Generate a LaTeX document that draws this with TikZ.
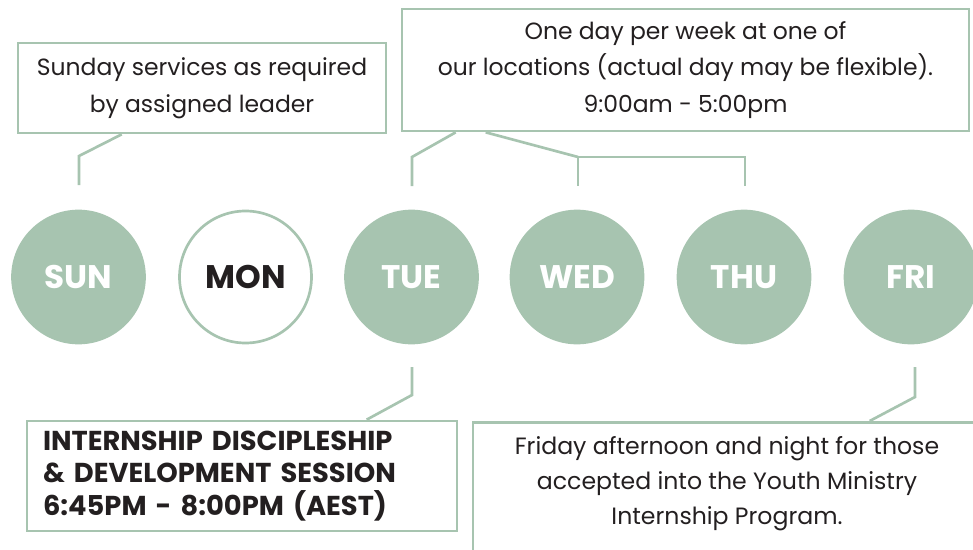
\documentclass[tikz,border=0pt]{standalone}
\usepackage{fontspec}
\setmainfont{Poppins}
\definecolor{sage}{RGB}{167,196,176}
\definecolor{ink}{RGB}{35,31,32}
\tikzset{every picture/.style={line width=2pt}}

\begin{document}
\begin{tikzpicture}[x=0.75pt,y=0.75pt,yscale=-1,xscale=1,
	day/.style={circle,minimum size=101pt,inner sep=0pt,fill=sage,text=white,font=\fontsize{24.5}{24.5}\selectfont\bfseries},
	infobox/.style={draw=sage,rectangle,inner sep=0pt,text=ink,align=center,font=\fontsize{17.6}{27.5}\selectfont},
	link/.style={draw=sage,line width=2pt}]
	\clip (0,0) rectangle (973,549); %picture is 973 wide, 549 high

	% Day circles
	\node[day] (sun) at (78.5,277) {SUN};
	\node[day,fill=white,draw=sage,text=ink,minimum size=99pt] (mon) at (245.5,277) {MON};
	\node[day] (tue) at (411.5,277) {TUE};
	\node[day] (wed) at (577,277) {WED};
	\node[day] (thu) at (744,277) {THU};
	\node[day] (fri) at (911,277) {FRI};

	% Text Node
	\node[infobox,minimum width=276pt,minimum height=67.5pt] (sunbox) at (202,88) {Sunday services as required\\by assigned leader};
	% Text Node
	\node[infobox,minimum width=425.25pt,minimum height=91.5pt] (weekbox) at (685.5,70) {One day per week at one of\\our locations (actual day may be flexible).\\9:00am - 5:00pm};
	% Text Node
	\node[infobox,minimum width=322.5pt,minimum height=82.5pt,inner xsep=12pt,text width=298.5pt,align=left,font=\fontsize{20.5}{24.5}\selectfont\bfseries] (tuebox) at (242,476) {INTERNSHIP DISCIPLESHIP\\\& DEVELOPMENT SESSION\\6:45PM - 8:00PM (AEST)};
	% Box running off the page
	\node[infobox,anchor=north,minimum width=381pt,minimum height=120pt] (fribox) at (727,421) {};
	% Text Node
	\node[text=ink,align=center,font=\fontsize{17.7}{26.25}\selectfont] (fritext) at (727,484) {Friday afternoon and night for those\\accepted into the Youth Ministry\\Internship Program.};

	% Connector ends
	\coordinate (sunend) at (79,185);
	\coordinate (tueend) at (412,186);
	\coordinate (wedend) at (578,186);
	\coordinate (thuend) at (745,186);
	\coordinate (tuelow) at (412,367);
	\coordinate (frilow) at (915,367);

	%Straight Lines
	\draw[link] (sunend) -- ++(0,-29) -- ([xshift=78.75pt]sunbox.south west);
	%Straight Lines
	\draw[link] (tueend) -- ++(0,-29) -- ([xshift=41.25pt]weekbox.south west);
	\draw[link] (thuend) -- ++(0,-29) -| (wedend);
	\draw[link] (wedend) ++(0,-29) -- ([xshift=63.75pt]weekbox.south west);
	%Straight Lines
	\draw[link] (tuelow) -- ++(0,28) -- ([xshift=255.75pt]tuebox.north west);
	\draw[link] (frilow) -- ++(0,30) -- ([xshift=298.5pt]fribox.north west);

\end{tikzpicture}
\end{document}
